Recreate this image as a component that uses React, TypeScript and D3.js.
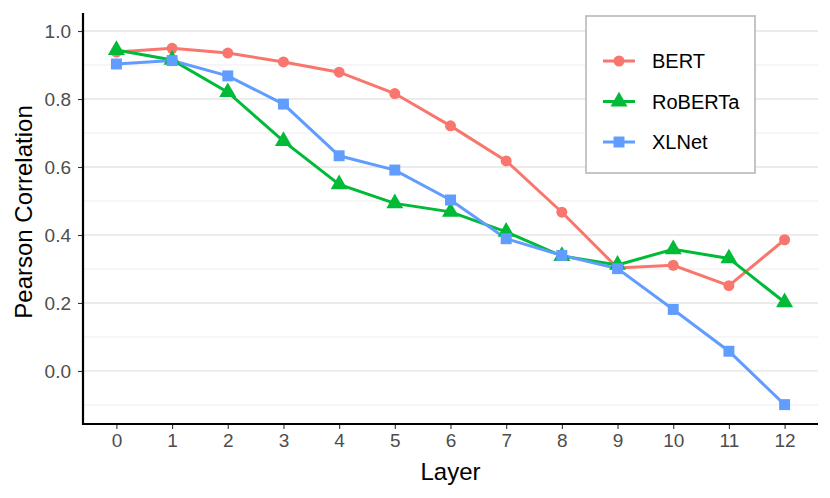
import { useEffect, useRef } from 'react';
import * as d3 from 'd3';

const layers = [0, 1, 2, 3, 4, 5, 6, 7, 8, 9, 10, 11, 12];
const bert = [0.938, 0.949, 0.935, 0.909, 0.879, 0.816, 0.721, 0.618, 0.467, 0.303, 0.311, 0.251, 0.386];
const roberta = [0.944, 0.915, 0.82, 0.676, 0.549, 0.493, 0.468, 0.409, 0.338, 0.312, 0.358, 0.331, 0.202];
const xlnet = [0.903, 0.913, 0.868, 0.785, 0.633, 0.591, 0.503, 0.389, 0.34, 0.301, 0.181, 0.058, -0.099];
const yTicks = [0.0, 0.2, 0.4, 0.6, 0.8, 1.0];
const yMinor = [-0.1, 0.1, 0.3, 0.5, 0.7, 0.9];

const seriesNames = ['BERT', 'RoBERTa', 'XLNet'];
const seriesColors = ['#F8766D', '#00BA38', '#619CFF'];
const seriesShapes = [d3.symbolCircle, d3.symbolTriangle, d3.symbolSquare];
const seriesSizes = [95, 125, 120];
const seriesValues = [bert, roberta, xlnet];

const W = 830;
const H = 498;
const FONT = '"Liberation Sans", Arial, Helvetica, sans-serif';

function App() {
    const svgRef = useRef<SVGSVGElement>(null);

    useEffect(() => {
        if (!svgRef.current) return;
        const svg = d3.select(svgRef.current);
        svg.selectAll('*').remove();

        const margin = { top: 13, right: 12, bottom: 74, left: 83 };
        const innerW = W - margin.left - margin.right;
        const innerH = H - margin.top - margin.bottom;

        const x = d3.scaleLinear().domain([-0.6, 12.6]).range([0, innerW]);
        const y = d3.scaleLinear().domain([-0.156, 1.053]).range([innerH, 0]);

        const g = svg.append('g').attr('transform', `translate(${margin.left},${margin.top})`);

        // grid
        g.selectAll('.minor').data(yMinor).enter().append('line')
            .attr('x1', 0).attr('x2', innerW)
            .attr('y1', d => y(d)).attr('y2', d => y(d))
            .attr('stroke', '#ebebeb').attr('stroke-width', 0.9);
        g.selectAll('.major').data(yTicks).enter().append('line')
            .attr('x1', 0).attr('x2', innerW)
            .attr('y1', d => y(d)).attr('y2', d => y(d))
            .attr('stroke', '#ebebeb').attr('stroke-width', 1.8);

        // lines and points
        const line = d3.line<number>().x((_, i) => x(layers[i])).y(d => y(d));
        seriesValues.forEach((vals, s) => {
            g.append('path').datum(vals)
                .attr('d', line)
                .attr('fill', 'none')
                .attr('stroke', seriesColors[s])
                .attr('stroke-width', 3);
        });
        seriesValues.forEach((vals, s) => {
            g.selectAll(`.pt${s}`).data(vals).enter().append('path')
                .attr('transform', (d, i) => `translate(${x(layers[i])},${y(d)})`)
                .attr('d', d3.symbol().type(seriesShapes[s]).size(seriesSizes[s])())
                .attr('fill', seriesColors[s]);
        });

        // axes
        const xAxis = d3.axisBottom(x).tickValues(layers).tickSize(5).tickPadding(5).tickFormat(d3.format('d'));
        const xg = g.append('g').attr('transform', `translate(0,${innerH})`).call(xAxis);
        const yAxis = d3.axisLeft(y).tickValues(yTicks).tickSize(5).tickPadding(7).tickFormat(d3.format('.1f'));
        const yg = g.append('g').call(yAxis);
        [xg, yg].forEach(ax => {
            ax.select('.domain').remove();
            ax.selectAll('.tick line').attr('stroke', '#333333').attr('stroke-width', 1.1);
            ax.selectAll('.tick text').attr('fill', '#4d4d4d').attr('font-size', 19).attr('font-family', FONT);
        });
        g.append('line').attr('x1', 0).attr('x2', innerW).attr('y1', innerH).attr('y2', innerH)
            .attr('stroke', 'black').attr('stroke-width', 2.2);
        g.append('line').attr('x1', 0).attr('x2', 0).attr('y1', 0).attr('y2', innerH + 1)
            .attr('stroke', 'black').attr('stroke-width', 2.2);

        // axis titles
        svg.append('text')
            .attr('x', margin.left + innerW / 2).attr('y', 480)
            .attr('text-anchor', 'middle').attr('font-size', 24).attr('font-family', FONT)
            .text('Layer');
        svg.append('text')
            .attr('transform', `translate(32,212) rotate(-90)`)
            .attr('text-anchor', 'middle').attr('font-size', 24).attr('font-family', FONT)
            .text('Pearson Correlation');

        // legend
        const lg = svg.append('g').attr('transform', 'translate(586,16)');
        lg.append('rect').attr('width', 169).attr('height', 157)
            .attr('fill', 'white').attr('stroke', '#bfbfbf').attr('stroke-width', 1.8);
        seriesNames.forEach((name, s) => {
            const cy = 45 + s * 40.5;
            lg.append('line').attr('x1', 17).attr('x2', 49).attr('y1', cy).attr('y2', cy)
                .attr('stroke', seriesColors[s]).attr('stroke-width', 3);
            lg.append('path').attr('transform', `translate(33,${cy})`)
                .attr('d', d3.symbol().type(seriesShapes[s]).size(seriesSizes[s])())
                .attr('fill', seriesColors[s]);
            lg.append('text').attr('x', 66).attr('y', cy + 7)
                .attr('font-size', 20).attr('font-family', FONT)
                .text(name);
        });
    }, []);

    return (
        <svg ref={svgRef} width={W} height={H} style={{ display: 'block', position: 'absolute', left: 0, top: 0, background: 'white' }}></svg>
    );
}

export default App;
